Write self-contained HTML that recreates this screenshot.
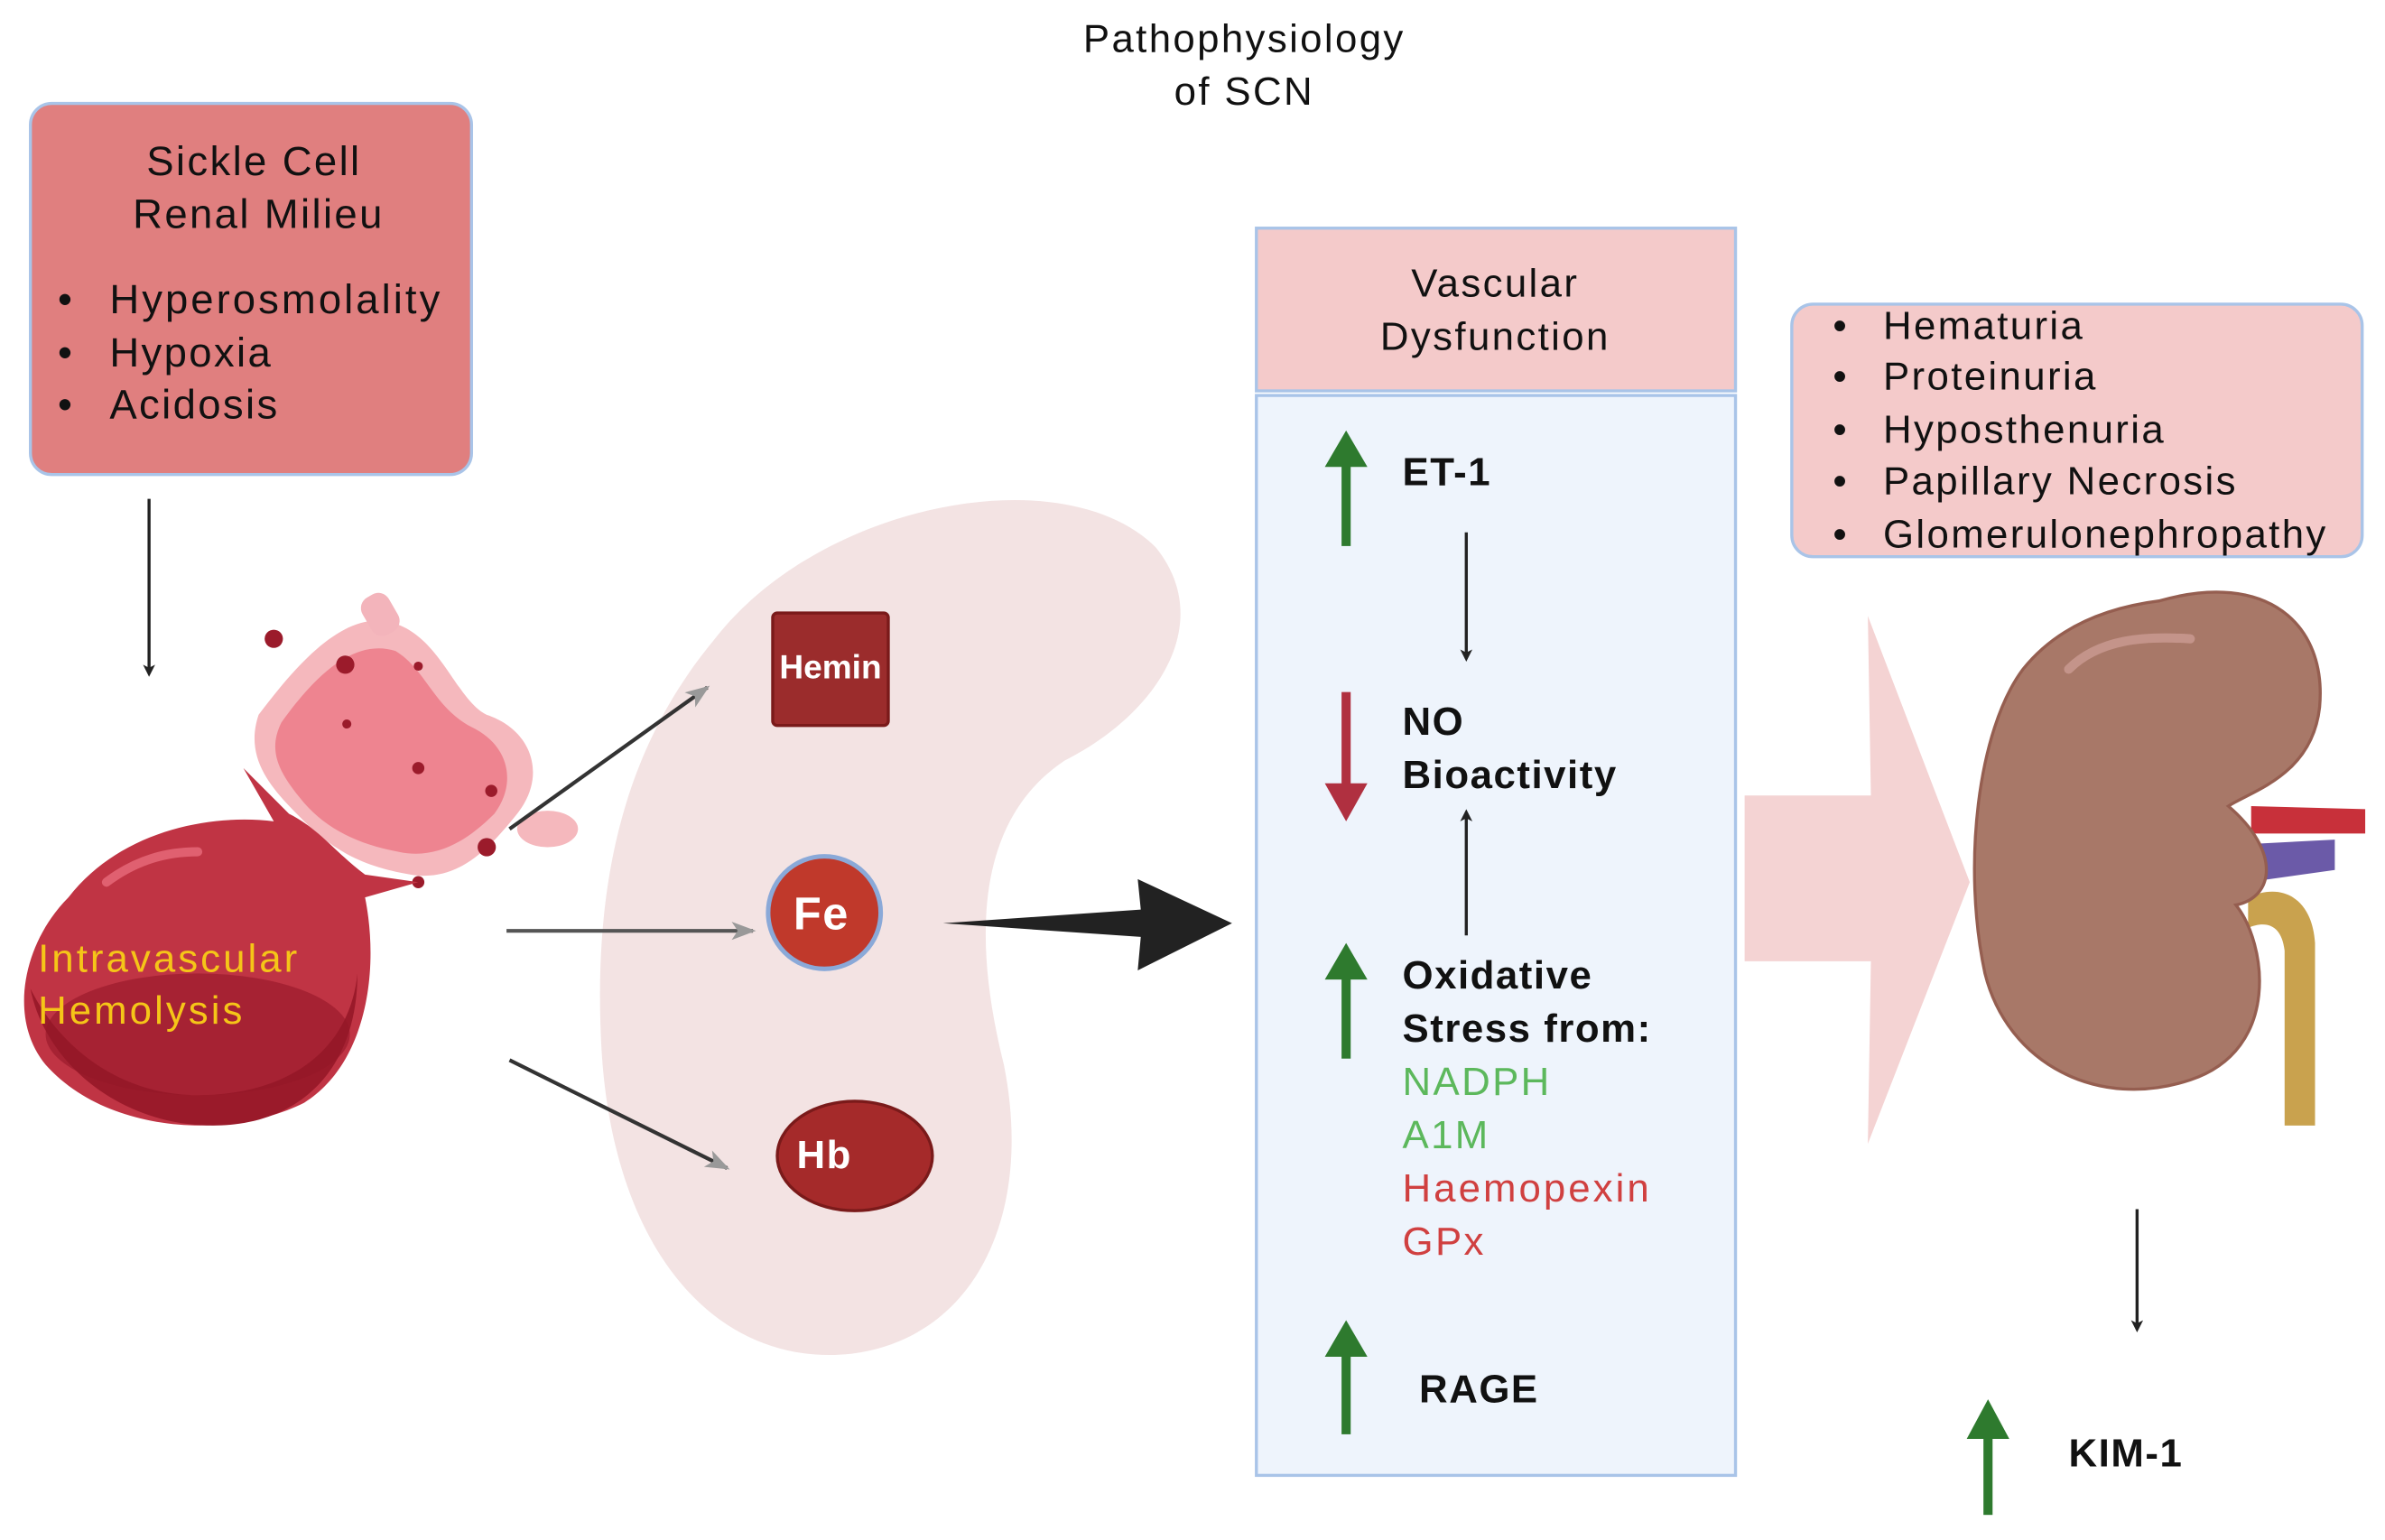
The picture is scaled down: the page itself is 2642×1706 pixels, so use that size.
<!DOCTYPE html>
<html><head><meta charset="utf-8"><style>
html,body{margin:0;padding:0;background:#fff}
svg{display:block}
text{font-family:"Liberation Sans",sans-serif;letter-spacing:1.4px}
.b{letter-spacing:0.9px}
</style></head><body>
<svg width="2642" height="1706" viewBox="0 0 1568 1012.5" preserveAspectRatio="none" xmlns="http://www.w3.org/2000/svg">
<defs>
<marker id="ak" markerWidth="8" markerHeight="8" refX="6" refY="4" orient="auto" markerUnits="userSpaceOnUse"><path d="M0,0 L8,4 L0,8 L2,4z" fill="#222"/></marker>
<marker id="ag" markerWidth="16" markerHeight="12" refX="14" refY="6" orient="auto" markerUnits="userSpaceOnUse"><path d="M0,0 L16,6 L0,12 L4,6z" fill="#999"/></marker>
</defs>
<rect width="1568" height="1013" fill="#fff"/>
<text x="818" y="34" font-size="26" text-anchor="middle" fill="#111">Pathophysiology</text>
<text x="818" y="69" font-size="26" text-anchor="middle" fill="#111">of SCN</text>

<rect x="20" y="68" width="290" height="244" rx="14" fill="#e07f7f" stroke="#a9c4e8" stroke-width="2"/>
<g font-size="27" fill="#111">
<text x="167" y="115" text-anchor="middle">Sickle Cell</text>
<text x="170" y="150" text-anchor="middle">Renal Milieu</text>
<text x="38" y="206">•</text><text x="72" y="206" style="letter-spacing:1.8px">Hyperosmolality</text>
<text x="38" y="241">•</text><text x="72" y="241">Hypoxia</text>
<text x="38" y="275">•</text><text x="72" y="275">Acidosis</text>
</g>
<line x1="98" y1="328" x2="98" y2="443" stroke="#222" stroke-width="2" marker-end="url(#ak)"/>

<path d="M470,420 C540,330 700,300 760,360 C800,410 760,470 700,500 C640,540 640,620 660,700 C680,800 640,880 560,890 C470,900 400,820 395,680 C390,560 420,480 470,420z" fill="#f3e3e3"/>

<path d="M170,470 C200,430 230,400 260,410 C290,420 300,460 320,470 C350,480 360,510 340,535 C320,560 300,580 270,575 C240,570 220,560 200,540 C180,520 160,500 170,470z" fill="#f5b8bd"/>
<path d="M185,475 C210,440 235,420 260,428 C280,440 285,465 310,478 C335,490 340,515 325,535 C305,555 285,565 262,560 C235,555 215,545 200,528 C185,510 175,495 185,475z" fill="#ee8490"/>
<rect x="240" y="390" width="20" height="28" rx="8" fill="#f3b4bb" transform="rotate(-30 250 404)"/>
<ellipse cx="360" cy="545" rx="20" ry="12" fill="#f5b8bd"/>
<g fill="#9b1b2b"><circle cx="180" cy="420" r="6"/><circle cx="227" cy="437" r="6"/><circle cx="275" cy="438" r="3"/><circle cx="228" cy="476" r="3"/><circle cx="275" cy="505" r="4"/><circle cx="320" cy="557" r="6"/><circle cx="323" cy="520" r="4"/><circle cx="275" cy="580" r="4"/></g>
<path d="M45,590 C80,545 140,535 180,540 L160,505 L190,535 C210,545 220,560 240,575 L275,580 L240,590 C250,640 240,700 200,725 C150,750 70,745 30,700 C5,670 15,620 45,590z" fill="#c03444"/>
<path d="M20,650 C30,700 80,740 140,740 C200,740 235,700 235,640 C230,690 190,720 130,720 C80,720 40,690 20,650z" fill="#9a1a2a"/>
<ellipse cx="130" cy="680" rx="100" ry="40" fill="#951828" opacity="0.6"/>
<path d="M70,580 C90,565 110,560 130,560" stroke="#e06070" stroke-width="6" fill="none" stroke-linecap="round"/>
<text x="25" y="639" font-size="26" fill="#f5c518" style="letter-spacing:1.8px">Intravascular</text>
<text x="25" y="673" font-size="26" fill="#f5c518" style="letter-spacing:1.8px">Hemolysis</text>

<line x1="335" y1="545" x2="465" y2="452" stroke="#333" stroke-width="2.5" marker-end="url(#ag)"/>
<line x1="333" y1="612" x2="495" y2="612" stroke="#555" stroke-width="2.5" marker-end="url(#ag)"/>
<line x1="335" y1="697" x2="478" y2="768" stroke="#333" stroke-width="2.5" marker-end="url(#ag)"/>

<rect x="508" y="403" width="76" height="74" rx="3" fill="#9b2c2c" stroke="#7a1a1a" stroke-width="2"/>
<text x="546" y="446" font-size="22" fill="#fff" text-anchor="middle" font-weight="bold" class="b" style="letter-spacing:0">Hemin</text>
<circle cx="542" cy="600" r="37" fill="#c0392b" stroke="#8aa9d8" stroke-width="3"/>
<text x="540" y="611" font-size="30" fill="#fff" text-anchor="middle" font-weight="bold" class="b">Fe</text>
<ellipse cx="562" cy="760" rx="51" ry="36" fill="#a52a2a" stroke="#7a1a1a" stroke-width="2"/>
<text x="542" y="768" font-size="26" fill="#fff" text-anchor="middle" font-weight="bold" class="b">Hb</text>

<path d="M620,607 L750,598 L748,578 L810,607 L748,638 L750,616z" fill="#222"/>

<rect x="826" y="150" width="315" height="107" fill="#f4caca" stroke="#a9c4e8" stroke-width="2"/>
<rect x="826" y="260" width="315" height="710" fill="#eef4fc" stroke="#a9c4e8" stroke-width="2"/>
<text x="983" y="195" font-size="26" text-anchor="middle" fill="#111">Vascular</text>
<text x="983" y="230" font-size="26" text-anchor="middle" fill="#111">Dysfunction</text>
<g fill="#2e7a2e">
<rect x="882" y="305" width="6" height="54"/><path d="M871,307 L885,283 L899,307z"/>
<rect x="882" y="642" width="6" height="54"/><path d="M871,644 L885,620 L899,644z"/>
<rect x="882" y="890" width="6" height="53"/><path d="M871,892 L885,868 L899,892z"/>
<rect x="1304" y="944" width="6" height="52"/><path d="M1293,946 L1307,920 L1321,946z"/>
</g>
<rect x="882" y="455" width="6" height="62" fill="#b03040"/><path d="M871,515 L885,540 L899,515z" fill="#b03040"/>
<g font-size="26" font-weight="bold" fill="#111" class="b">
<text x="922" y="319" class="b">ET-1</text>
<text x="922" y="483" class="b">NO</text>
<text x="922" y="518" class="b">Bioactivity</text>
<text x="922" y="650" class="b">Oxidative</text>
<text x="922" y="685" class="b">Stress from:</text>
<text x="933" y="922" class="b">RAGE</text>
<text x="1360" y="964" class="b">KIM-1</text>
</g>
<g font-size="26">
<text x="922" y="720" fill="#5cb85c">NADPH</text>
<text x="922" y="755" fill="#5cb85c">A1M</text>
<text x="922" y="790" fill="#d04040" style="letter-spacing:1.8px">Haemopexin</text>
<text x="922" y="825" fill="#d04040">GPx</text>
</g>
<line x1="964" y1="350" x2="964" y2="433" stroke="#222" stroke-width="2" marker-end="url(#ak)"/>
<line x1="964" y1="615" x2="964" y2="534" stroke="#222" stroke-width="2" marker-end="url(#ak)"/>

<path d="M1147,523 L1230,523 L1228,405 L1295,580 L1228,752 L1230,632 L1147,632z" fill="#f4d3d3"/>

<rect x="1178" y="200" width="375" height="166" rx="14" fill="#f4caca" stroke="#a9c4e8" stroke-width="2"/>
<g font-size="26" fill="#111">
<text x="1205" y="223">•</text><text x="1238" y="223">Hematuria</text>
<text x="1205" y="256">•</text><text x="1238" y="256">Proteinuria</text>
<text x="1205" y="291">•</text><text x="1238" y="291">Hyposthenuria</text>
<text x="1205" y="325">•</text><text x="1238" y="325">Papillary Necrosis</text>
<text x="1205" y="360">•</text><text x="1238" y="360">Glomerulonephropathy</text>
</g>

<path d="M1480,530 L1555,532 L1555,548 L1480,548z" fill="#c8303a"/>
<path d="M1478,555 L1535,552 L1535,572 L1478,580z" fill="#6b5aa8"/>
<path d="M1478,590 C1500,580 1520,590 1522,620 L1522,740 L1502,740 L1502,625 C1500,608 1490,605 1478,610z" fill="#c9a24e"/>
<path d="M1420,395 C1490,375 1530,410 1525,465 C1520,510 1480,520 1465,530 C1500,560 1495,590 1470,595 C1490,620 1500,690 1440,710 C1380,730 1320,700 1305,640 C1290,570 1300,480 1330,440 C1350,415 1380,400 1420,395z" fill="#a87868" stroke="#955e50" stroke-width="2"/>
<path d="M1360,440 C1380,420 1410,418 1440,420" stroke="#c4948a" stroke-width="6" fill="none" stroke-linecap="round"/>
<line x1="1405" y1="795" x2="1405" y2="874" stroke="#222" stroke-width="2" marker-end="url(#ak)"/>
</svg>
</body></html>
